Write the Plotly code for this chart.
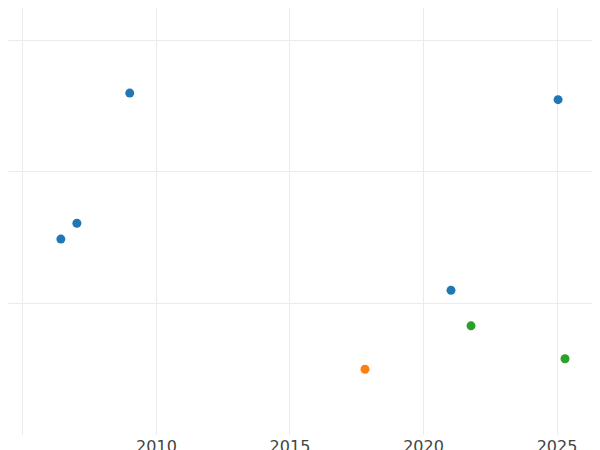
import plotly.graph_objects as go

years_a = [2009.0, 2025.04, 2006.42, 2007.02, 2021.03]
vals_a = [2.60, 2.55, 1.49, 1.61, 1.10]
years_b = [2017.81]
vals_b = [0.50]
years_c = [2021.78, 2025.3]
vals_c = [0.83, 0.58]

fig = go.Figure()
for xs, ys, col in [(years_a, vals_a, "#1f77b4"), (years_b, vals_b, "#ff7f0e"), (years_c, vals_c, "#2ca02c")]:
    fig.add_trace(go.Scatter(x=xs, y=ys, mode="markers", marker=dict(size=9, color=col)))

fig.update_layout(
    width=600, height=450, showlegend=False,
    paper_bgcolor="white", plot_bgcolor="white",
    margin=dict(l=0, r=0, t=0, b=23),
    font=dict(family="DejaVu Sans", size=16, color="#444"),
    xaxis=dict(range=[2004.44, 2026.91], tickvals=[2005, 2010, 2015, 2020, 2025],
               ticktext=["", "2010", "2015", "2020", "2025"], automargin=False,
               showgrid=True, gridcolor="#ebebeb", zeroline=False, showline=False),
    yaxis=dict(range=[0, 3.247], tickvals=[0, 1, 2, 3], showticklabels=False, automargin=False,
               showgrid=True, gridcolor="#ebebeb", zeroline=False),
)
fig.write_html("out.html")
